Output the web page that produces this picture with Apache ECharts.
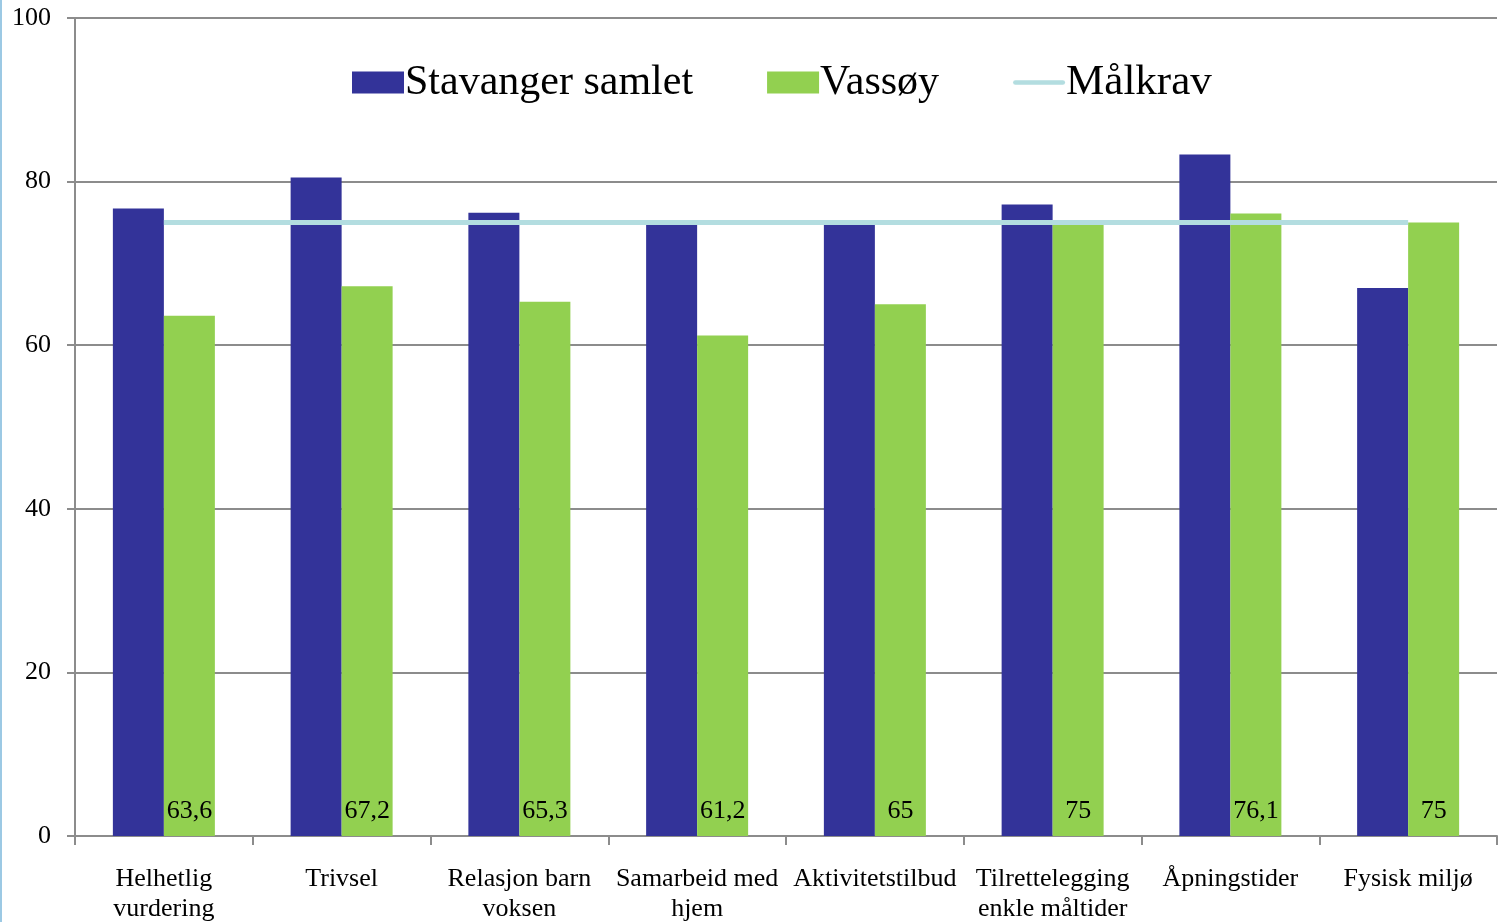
<!DOCTYPE html>
<html>
<head>
<meta charset="utf-8">
<script src="https://cdn.jsdelivr.net/npm/echarts@6/dist/echarts.min.js"></script>
<style>
html,body{margin:0;padding:0;background:#fff;}
#c{width:1500px;height:922px;}
</style>
</head>
<body>
<div id="c"></div>
<script>
const categories = ["Helhetlig\nvurdering","Trivsel","Relasjon barn\nvoksen","Samarbeid med\nhjem","Aktivitetstilbud","Tilrettelegging\nenkle måltider","Åpningstider","Fysisk miljø"];
const stavanger = [76.7, 80.5, 76.2, 74.7, 74.7, 77.2, 83.3, 67.0];
const vassoy = [63.6, 67.2, 65.3, 61.2, 65, 75, 76.1, 75];
const malkrav = [75, 75, 75, 75, 75, 75, 75, 75];
const yTicks = [0, 20, 40, 60, 80, 100];

const font = '"Liberation Serif", "Times New Roman", serif';
const chart = echarts.init(document.getElementById('c'));
chart.setOption({
  animation: false,
  backgroundColor: '#fff',
  textStyle: {fontFamily: font},
  graphic: [{type:'rect', shape:{x:0,y:0,width:2,height:922}, style:{fill:'#9cc9e4'}}],
  legend: {
    top: 56, left: 347, itemGap: 74, itemWidth: 52, itemHeight: 22,
    textStyle: {fontFamily: font, fontSize: 42, color: '#000', padding:[0,0,0,-4]},
    data: [
      {name:'Stavanger samlet', icon:'rect'},
      {name:'Vassøy', icon:'rect'},
      {name:'Målkrav', icon:'path://M0,0 L0,0 M2.5,8.5 L53.5,8.5 A2.5,2.5 0 0 1 53.5,13.5 L2.5,13.5 A2.5,2.5 0 0 1 2.5,8.5 Z M56,22 L56,22',
       itemStyle:{color:'#b3dde0'}, textStyle:{fontSize: 43}}
    ]
  },
  grid: {left: 75, right: 3, top: 18, bottom: 86, outerBoundsMode: 'none', containLabel: false},
  xAxis: {
    type: 'category', data: categories, boundaryGap: true,
    axisLine: {lineStyle: {color: '#8c8c8c', width: 2}},
    axisTick: {show: true, length: 9, lineStyle: {color: '#8c8c8c', width: 2}},
    axisLabel: {interval: 0, fontFamily: font, fontSize: 26, color: '#000', margin: 28, lineHeight: 30}
  },
  yAxis: {
    type: 'value', min: yTicks[0], max: yTicks[yTicks.length-1], interval: 20,
    axisLine: {show: true, lineStyle: {color: '#8c8c8c', width: 2}},
    axisTick: {show: true, length: 8, lineStyle: {color: '#8c8c8c', width: 2}},
    axisLabel: {fontFamily: font, fontSize: 26, color: '#000', margin: 24},
    splitLine: {lineStyle: {color: '#8c8c8c', width: 2}}
  },
  series: [
    {name:'Stavanger samlet', type:'bar', data: stavanger, barWidth: 51, barGap: '0%',
     itemStyle:{color:'#333399'}},
    {name:'Vassøy', type:'bar', data: vassoy, barWidth: 51,
     itemStyle:{color:'#92d050'},
     label:{show:true, position:'insideBottom', distance: 12, fontFamily: font, fontSize: 26, color:'#000',
       formatter: p => String(p.value).replace('.', ',')}},
    {name:'Målkrav', type:'line', data: malkrav, symbol:'none', showSymbol:false, z: 5,
     lineStyle:{color:'#b3dde0', width: 5}, itemStyle:{color:'#b3dde0'}}
  ]
});
</script>
</body>
</html>
